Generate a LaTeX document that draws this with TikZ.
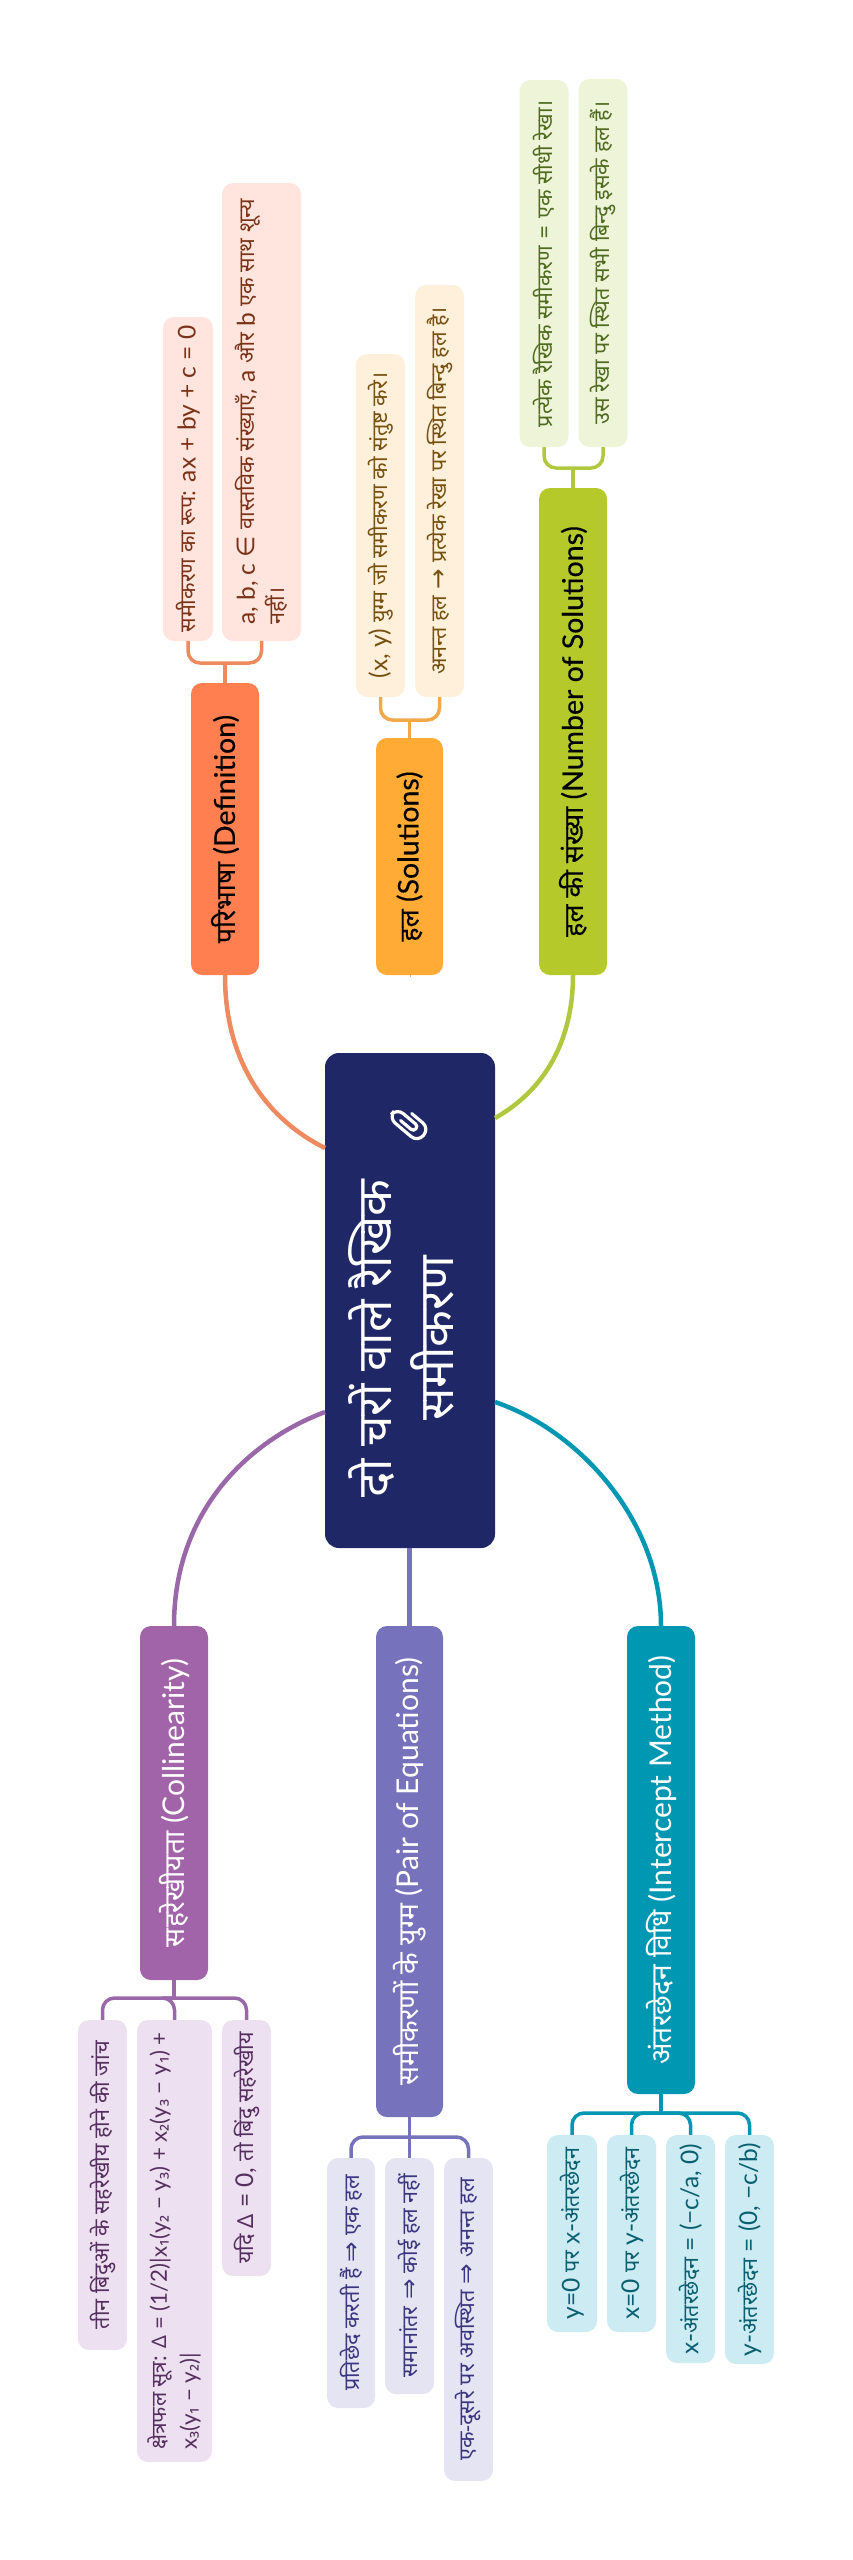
\documentclass[tikz,border=0pt]{standalone}
\usepackage{fontspec}
\setmainfont{Lato}
\newfontfamily\sym{DejaVu Sans}
\newfontfamily\subf[Scale=0.9]{Noto Sans}
\newfontfamily\devf[Script=Devanagari,Scale=0.94]{Noto Sans}
\newfontfamily\devs[Script=Devanagari,Scale=0.88]{Noto Sans}
\newfontfamily\devb[Script=Devanagari,Scale=0.94,FakeBold=0.2]{Noto Sans}
\newfontfamily\latb[FakeBold=0.25]{Lato}
\newcommand\dv[1]{{\devf #1}}
\newcommand\sbs[1]{{\subf #1}}
\definecolor{cenc}{HTML}{1F2766}
\definecolor{ac}{HTML}{FF7F50}\definecolor{al}{HTML}{EE8A5F}\definecolor{af}{HTML}{FFE5DE}\definecolor{at}{HTML}{7A3318}
\definecolor{bc}{HTML}{FFAB36}\definecolor{bl}{HTML}{F2A94A}\definecolor{bf}{HTML}{FFF0DC}\definecolor{bt}{HTML}{75500F}
\definecolor{cc}{HTML}{B5CA2A}\definecolor{cl}{HTML}{B0C840}\definecolor{cf}{HTML}{EEF4D8}\definecolor{ct}{HTML}{4F6B20}
\definecolor{dc}{HTML}{A264A8}\definecolor{dl}{HTML}{9A68A8}\definecolor{df}{HTML}{EDE0F0}\definecolor{dt}{HTML}{55305F}
\definecolor{ec}{HTML}{7672BB}\definecolor{el}{HTML}{7672BB}\definecolor{ef}{HTML}{E5E4F3}\definecolor{et}{HTML}{3A3780}
\definecolor{fc}{HTML}{0097B2}\definecolor{fl}{HTML}{0097B2}\definecolor{ff}{HTML}{CDEBF2}\definecolor{ft}{HTML}{0A6070}
\tikzset{
  mm/.style={rectangle,rounded corners=#1,rotate=90,inner sep=0pt,align=left},
  cenbox/.style={mm=14pt,fill=cenc,text=white,font=\fontsize{51}{62}\selectfont},
  topic/.style={mm=11pt,font=\let\devf\devb\latb\fontsize{28.5}{32}\selectfont,text=black},
  btopic/.style={mm=11pt,font=\fontsize{30}{32}\selectfont,text=white},
  leaf/.style={mm=11pt,font=\let\devf\devs\fontsize{24.5}{29.5}\selectfont},
  wideleaf/.style={mm=11pt,font=\let\devf\devf\fontsize{22.3}{30}\selectfont},
  trunk/.style={line width=4.5pt},
  twig/.style={line width=3.5pt,rounded corners=12pt}
}
\newcommand\mmn[7]{\node[#6,minimum width={(#5-#3)*1pt},minimum height={(#4-#2)*1pt}] (#1) at ({(#2+#4)/2},{(#3+#5)/2}) {#7};}
\begin{document}
\begin{tikzpicture}[x=1pt,y=-1pt]
\useasboundingbox (0,0) rectangle (852,2560);
% nodes
\mmn{cen}{325}{1053}{495}{1548}{cenbox}{\hbox{\begin{tabular}{@{}c@{}}\dv{दो चरों वाले रैखिक}\\\dv{समीकरण}\end{tabular}\hspace{76pt}}}
\mmn{nA}{191}{683}{259}{975}{topic,fill=ac}{\dv{परिभाषा} (Definition)}
\mmn{nB}{376}{738}{443}{975}{topic,fill=bc}{\dv{हल} (Solutions)}
\mmn{nC}{539}{488}{607}{975}{topic,fill=cc}{\dv{हल की संख्या} (Number of Solutions)}
\mmn{nD}{140}{1626}{208}{1980}{btopic,fill=dc}{\dv{सहरेखीयता} (Collinearity)}
\mmn{nE}{376}{1626}{443}{2117}{btopic,fill=ec}{\dv{समीकरणों के युग्म} (Pair of Equations)}
\mmn{nF}{627}{1626}{695}{2094}{btopic,fill=fc}{\dv{अंतरछेदन विधि} (Intercept Method)}
\mmn{a1}{163}{317}{213}{641}{leaf,fill=af,text=at}{\dv{समीकरण का रूप:} ax + by + c = 0}
\mmn{a2}{222}{183}{301}{641}{leaf,fill=af,text=at}{a, b, c {\sym ∈} \dv{वास्तविक संख्याएँ,} a \dv{और} b \dv{एक साथ शून्य}\\\dv{नहीं।}}
\mmn{b1}{356}{354}{405}{697}{leaf,fill=bf,text=bt}{(x, y) \dv{युग्म जो समीकरण को संतुष्ट करे।}}
\mmn{b2}{415}{285}{464}{697}{leaf,fill=bf,text=bt}{\dv{अनन्त हल} {\sym →} \dv{प्रत्येक रेखा पर स्थित बिन्दु हल है।}}
\mmn{c1}{519.5}{80}{568.5}{447}{leaf,fill=cf,text=ct}{\dv{प्रत्येक रैखिक समीकरण} = \dv{एक सीधी रेखा।}}
\mmn{c2}{578.5}{79}{627.5}{447}{leaf,fill=cf,text=ct}{\dv{उस रेखा पर स्थित सभी बिन्दु इसके हल हैं।}}
\mmn{d1}{78}{2020}{127}{2350}{leaf,fill=df,text=dt}{\dv{तीन बिंदुओं के सहरेखीय होने की जांच}}
\mmn{d2}{137}{2020}{212}{2462}{wideleaf,fill=df,text=dt}{\dv{क्षेत्रफल सूत्र:} \sbs{Δ} = (1/2)|x\sbs{₁}(y\sbs{₂} − y\sbs{₃}) + x\sbs{₂}(y\sbs{₃} − y\sbs{₁}) +\\x\sbs{₃}(y\sbs{₁} − y\sbs{₂})|}
\mmn{d3}{222}{2020}{271}{2276}{leaf,fill=df,text=dt}{\dv{यदि} \sbs{Δ} = 0, \dv{तो बिंदु सहरेखीय}}
\mmn{e1}{327}{2158}{375}{2408}{leaf,fill=ef,text=et}{\dv{प्रतिछेद करती हैं} {\sym ⇒} \dv{एक हल}}
\mmn{e2}{385}{2158}{434}{2394}{leaf,fill=ef,text=et}{\dv{समानांतर} {\sym ⇒} \dv{कोई हल नहीं}}
\mmn{e3}{444}{2158}{493}{2481}{leaf,fill=ef,text=et}{\dv{एक-दूसरे पर अवस्थित} {\sym ⇒} \dv{अनन्त हल}}
\mmn{f1}{547}{2135}{597}{2332}{leaf,fill=ff,text=ft}{y=0 \dv{पर} x-\dv{अंतरछेदन}}
\mmn{f2}{607}{2135}{656}{2332}{leaf,fill=ff,text=ft}{x=0 \dv{पर} y-\dv{अंतरछेदन}}
\mmn{f3}{666}{2135}{715}{2363}{leaf,fill=ff,text=ft}{x-\dv{अंतरछेदन} = (−c/a, 0)}
\mmn{f4}{725}{2135}{774}{2364}{leaf,fill=ff,text=ft}{y-\dv{अंतरछेदन} = (0, −c/b)}
% anchor points on the central node
\coordinate (cA) at (325,1148);
\coordinate (cC) at (495,1118);
\coordinate (cD) at (325,1412);
\coordinate (cF) at (495,1402);
\coordinate (jA) at (225,663);
\coordinate (jB) at (409.5,720);
\coordinate (jC) at (573,468);
\coordinate (jD) at (174,1998);
\coordinate (jE) at (409.5,2137);
\coordinate (jF) at (661,2113);
% main connectors
\draw[trunk,al] (nA.west) .. controls +(0,85) and (265,1118) .. (cA);
\draw[trunk,bl] (nB.west) -- (cen.east |- nB.west);
\draw[trunk,cl] (nC.west) .. controls +(0,65) and (545,1090) .. (cC);
\draw[trunk,dl] (nD.east) .. controls +(0,-116) and (250,1440) .. (cD);
\draw[trunk,el] (nE.east) -- (cen.west -| nE.east);
\draw[trunk,fl] (nF.east) .. controls +(0,-106) and (578,1430) .. (cF);
% branch twigs
\foreach \leafn/\col/\j/\tip in {a1/al/jA/west,a2/al/jA/west,b1/bl/jB/west,b2/bl/jB/west,c1/cl/jC/west,c2/cl/jC/west,d1/dl/jD/east,d2/dl/jD/east,d3/dl/jD/east,e1/el/jE/east,e2/el/jE/east,e3/el/jE/east,f1/fl/jF/east,f2/fl/jF/east,f3/fl/jF/east,f4/fl/jF/east}
  \draw[twig,\col] (\j) -- (\leafn.\tip |- \j) -- (\leafn.\tip);
\draw[twig,al] (nA.east) -- (jA);
\draw[twig,bl] (nB.east) -- (jB);
\draw[twig,cl] (nC.east) -- (jC);
\draw[twig,dl] (nD.west) -- (jD);
\draw[twig,el] (nE.west) -- (jE);
\draw[twig,fl] (nF.west) -- (jF);
% paperclip
\begin{scope}[shift={(409,1123)},rotate=-40]
\draw[white,line width=3.2pt,line cap=round,rounded corners=8.5pt]
  (-4,-9) -- (19,-9) -- (19,9) -- (-19,9) -- (-19,-3.5) [rounded corners=3.4pt] -- (9,-3.5) -- (9,3.5) -- (-8,3.5);
\end{scope}
\end{tikzpicture}
\end{document}
